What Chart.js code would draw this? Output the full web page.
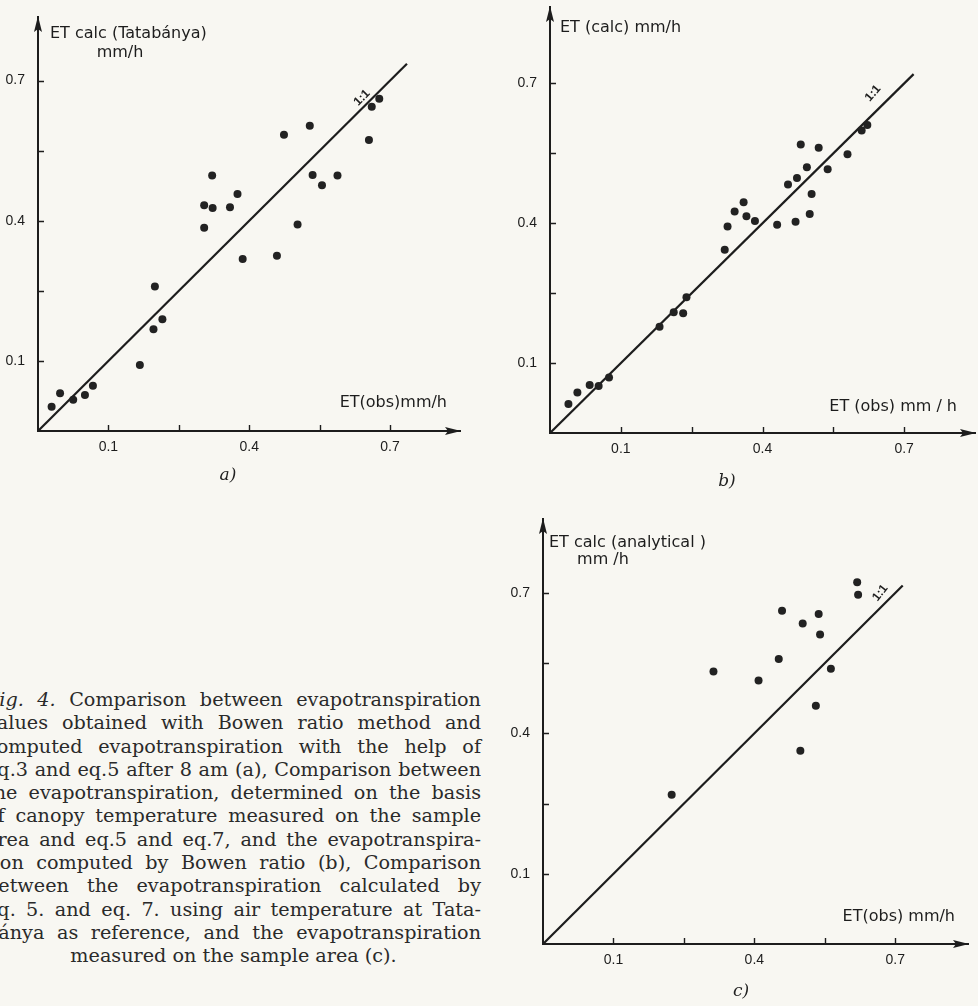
<!DOCTYPE html>
<html>
<head>
<meta charset="utf-8">
<script src="https://cdn.jsdelivr.net/npm/chart.js@4.4.1/dist/chart.umd.min.js"></script>
<style>
  html, body { margin: 0; padding: 0; }
  body { width: 978px; height: 1006px; overflow: hidden; position: relative; background: #f8f7f2; }
  .panel { position: absolute; }
  .tag { position: absolute; font: italic 17px "DejaVu Serif"; color: #222; transform: translate(-50%, -50%); }
  .caption { position: absolute; left: -14px; top: 688px; width: 495px; font: 19.2px/23.3px "DejaVu Serif"; color: #2a2a2a; }
  .caption div { text-align: justify; text-align-last: justify; }
  .caption div.last { text-align: center; text-align-last: center; }
</style>
</head>
<body>

<div class="panel" id="pa"><canvas id="ca"></canvas></div>
<div class="panel" id="pb"><canvas id="cb"></canvas></div>
<div class="panel" id="pc"><canvas id="cc"></canvas></div>

<div class="tag" style="left:228px;top:474px">a)</div>
<div class="tag" style="left:727px;top:480px">b)</div>
<div class="tag" style="left:741px;top:990px">c)</div>

<div class="caption">
  <div><i>Fig. 4.</i> Comparison between evapotranspiration</div>
  <div>values obtained with Bowen ratio method and</div>
  <div>computed evapotranspiration with the help of</div>
  <div>eq.3 and eq.5 after 8 am (a), Comparison between</div>
  <div>the evapotranspiration, determined on the basis</div>
  <div>of canopy temperature measured on the sample</div>
  <div>area and eq.5 and eq.7, and the evapotranspira-</div>
  <div>tion computed by Bowen ratio (b), Comparison</div>
  <div>between the evapotranspiration calculated by</div>
  <div>eq. 5. and eq. 7. using air temperature at Tata-</div>
  <div>bánya as reference, and the evapotranspiration</div>
  <div class="last">measured on the sample area (c).</div>
</div>

<script>
// --- Werte ------------------------------------------------------------------
// Achsen-Ticks: alle 0.15, beschriftet nur 0.1 / 0.4 / 0.7
const TICKS = [0.1, 0.25, 0.4, 0.55, 0.7];
const TICK_LABELS = [0.1, 0.4, 0.7];

// a) ET(obs) vs. ET calc (Tatabánya)
const aObs  = [-0.021, -0.003, 0.025, 0.050, 0.067, 0.167, 0.196, 0.215, 0.199, 0.304, 0.304, 0.322, 0.321,
               0.359, 0.375, 0.386, 0.459, 0.474, 0.503, 0.529, 0.535, 0.555, 0.588, 0.655, 0.661, 0.677];
const aCalc = [0.002, 0.031, 0.017, 0.027, 0.047, 0.091, 0.168, 0.189, 0.259, 0.385, 0.433, 0.427, 0.497,
               0.429, 0.457, 0.318, 0.325, 0.584, 0.392, 0.603, 0.498, 0.476, 0.497, 0.573, 0.644, 0.661];

// b) ET(obs) vs. ET (calc)
const bObs  = [-0.011, 0.008, 0.034, 0.053, 0.075, 0.182, 0.212, 0.232, 0.239, 0.320, 0.326, 0.341, 0.360, 0.366,
               0.384, 0.431, 0.454, 0.470, 0.473, 0.481, 0.494, 0.500, 0.504, 0.519, 0.538, 0.580, 0.610, 0.622];
const bCalc = [0.012, 0.037, 0.053, 0.051, 0.069, 0.178, 0.209, 0.207, 0.241, 0.343, 0.393, 0.425, 0.445, 0.415,
               0.405, 0.397, 0.483, 0.403, 0.497, 0.569, 0.520, 0.420, 0.463, 0.562, 0.516, 0.548, 0.599, 0.611];

// c) ET(obs) vs. ET calc (analytical)
const cObs  = [0.224, 0.313, 0.409, 0.452, 0.459, 0.498, 0.503, 0.531, 0.537, 0.540, 0.563, 0.619, 0.621];
const cCalc = [0.269, 0.532, 0.513, 0.559, 0.662, 0.363, 0.635, 0.459, 0.655, 0.611, 0.538, 0.723, 0.696];

// 1:1-Linie (Anfang / Ende) je Diagramm
const lineStart = -0.05;
const lineEnd   = [0.736, 0.720, 0.716];

// Achsenbereiche je Diagramm
const xMin = -0.05, yMin = -0.05;
const xMax = [0.849, 0.850, 0.855];
const yMax = [0.836, 0.864, 0.858];

// --- Layout -----------------------------------------------------------------
const INK = '#1d1d1d';
const PAD = { l: 48, t: 8, r: 10, b: 40 };
const TITLE_FONT = '16px "DejaVu Sans"';

// Plotfläche in Seitenpixeln: links, oben, rechts, unten
const boxes = [
  [38, 17, 460, 431],
  [550, 7, 975, 433],
  [543, 519, 968, 944],
];

const decorOpts = [
  { yTitle: [['ET calc (Tatabánya)', 12, 17, 'left'], ['mm/h', 82, 36, 'center']],
    xTitle: ['ET(obs)mm/h', -13, -28], tag: [0.640, 0.663], angle: -0.80 },
  { yTitle: [['ET (calc) mm/h', 10, 21, 'left']],
    xTitle: ['ET (obs) mm / h', -18, -26], tag: [0.634, 0.679], angle: -0.85 },
  { yTitle: [['ET calc (analytical )', 6, 24, 'left'], ['mm /h', 60, 41, 'center']],
    xTitle: ['ET(obs) mm/h', -13, -27], tag: [0.668, 0.700], angle: -0.90 },
];

// Pfeile, Tickstriche, Achsentitel, "1:1"-Beschriftung
const decor = {
  id: 'decor',
  afterDraw(chart, args, o) {
    const { ctx, chartArea: a, scales } = chart;
    ctx.save();
    ctx.strokeStyle = INK;
    ctx.lineWidth = 1.4;
    ctx.beginPath();
    TICKS.forEach((v) => {
      const px = Math.round(scales.x.getPixelForValue(v)) + 0.5;
      ctx.moveTo(px, a.bottom); ctx.lineTo(px, a.bottom - 6);
      const py = Math.round(scales.y.getPixelForValue(v)) + 0.5;
      ctx.moveTo(a.left, py); ctx.lineTo(a.left + 6, py);
    });
    ctx.stroke();

    ctx.fillStyle = INK;
    ctx.beginPath();
    ctx.moveTo(a.right + 1, a.bottom);
    ctx.lineTo(a.right - 15, a.bottom - 4);
    ctx.lineTo(a.right - 12, a.bottom);
    ctx.lineTo(a.right - 15, a.bottom + 4);
    ctx.fill();
    ctx.beginPath();
    ctx.moveTo(a.left, a.top - 1);
    ctx.lineTo(a.left - 4, a.top + 15);
    ctx.lineTo(a.left, a.top + 12);
    ctx.lineTo(a.left + 4, a.top + 15);
    ctx.fill();

    ctx.font = TITLE_FONT;
    ctx.textBaseline = 'middle';
    o.yTitle.forEach(([t, dx, dy, al]) => { ctx.textAlign = al; ctx.fillText(t, a.left + dx, a.top + dy); });
    ctx.textAlign = 'right';
    ctx.fillText(o.xTitle[0], a.right + o.xTitle[1], a.bottom + o.xTitle[2]);

    const px = scales.x.getPixelForValue(o.tag[0]);
    const py = scales.y.getPixelForValue(o.tag[1]);
    ctx.translate(px, py);
    ctx.rotate(o.angle);
    ctx.font = 'bold 12px "Liberation Sans"';
    ctx.textAlign = 'center';
    ctx.fillText('1:1', 0, 0);
    ctx.restore();
  },
};

function tickLabel(v) {
  return TICK_LABELS.some((t) => Math.abs(t - v) < 1e-6) ? String(v) : '';
}

function axis(min, max, horizontal) {
  return {
    type: 'linear',
    min, max,
    afterBuildTicks: (s) => { s.ticks = TICKS.map((v) => ({ value: v })); },
    afterFit: (s) => {
      if (horizontal) s.height = PAD.b; else s.width = PAD.l;
      s.paddingTop = 0; s.paddingBottom = 0; s.paddingLeft = 0; s.paddingRight = 0;
    },
    ticks: {
      autoSkip: false,
      padding: horizontal ? 8 : 13,
      color: INK,
      font: { family: 'Liberation Sans', size: 14 },
      callback: (v) => tickLabel(v),
    },
    grid: { display: false, drawTicks: false, tickLength: 0 },
    border: { display: true, color: INK, width: 2 },
  };
}

function makePanel(i, holderId, canvasId, xs, ys) {
  const [L, T, R, B] = boxes[i];
  const w = R - L + PAD.l + PAD.r;
  const h = B - T + PAD.t + PAD.b;
  const holder = document.getElementById(holderId);
  holder.style.left = (L - PAD.l) + 'px';
  holder.style.top = (T - PAD.t) + 'px';
  holder.style.width = w + 'px';
  holder.style.height = h + 'px';

  const pts = xs.map((x, k) => ({ x, y: ys[k] }));
  new Chart(document.getElementById(canvasId), {
    type: 'scatter',
    data: {
      datasets: [
        { data: pts, pointRadius: 4, pointBackgroundColor: '#222', pointBorderWidth: 0 },
        { data: [{ x: lineStart, y: lineStart }, { x: lineEnd[i], y: lineEnd[i] }],
          showLine: true, borderColor: INK, borderWidth: 2.2, pointRadius: 0 },
      ],
    },
    options: {
      responsive: true,
      maintainAspectRatio: false,
      animation: false,
      layout: { padding: { left: 0, top: PAD.t, right: PAD.r, bottom: 0 } },
      plugins: { legend: { display: false }, tooltip: { enabled: false }, decor: decorOpts[i] },
      scales: { x: axis(xMin, xMax[i], true), y: axis(yMin, yMax[i], false) },
    },
    plugins: [decor],
  });
}

makePanel(0, 'pa', 'ca', aObs, aCalc);
makePanel(1, 'pb', 'cb', bObs, bCalc);
makePanel(2, 'pc', 'cc', cObs, cCalc);
</script>
</body>
</html>
